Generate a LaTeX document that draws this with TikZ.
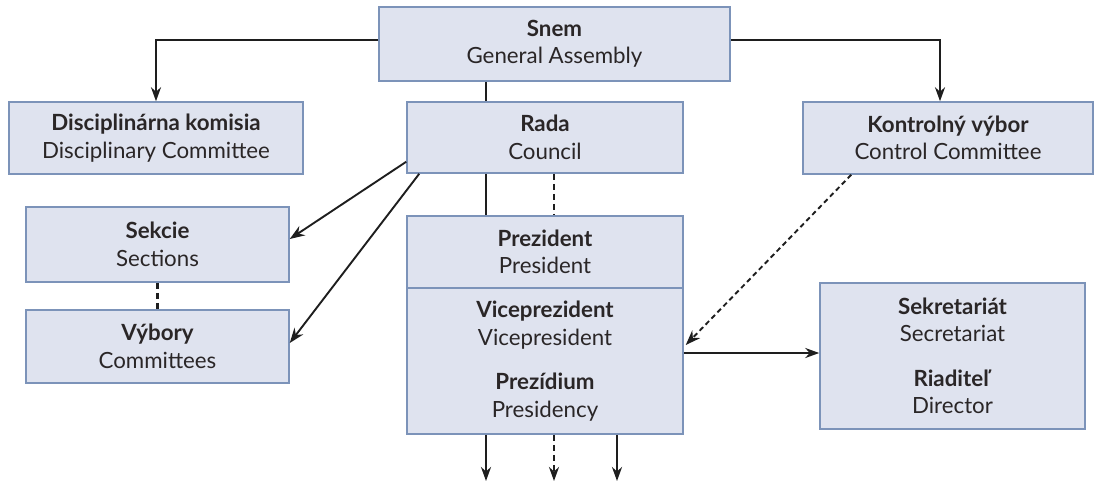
\documentclass[tikz,border=0pt]{standalone}
\usepackage{fontspec}
\setmainfont{Lato}
\usetikzlibrary{arrows.meta}
\definecolor{boxfill}{HTML}{DFE3EF}
\definecolor{boxline}{HTML}{7C93B9}
\definecolor{txtc}{HTML}{2A2627}
\definecolor{lnc}{HTML}{1E1E1E}
\newcommand{\tl}[2]{\textbf{#1}\\#2}
\begin{document}
\begin{tikzpicture}[x=1pt,y=-1pt,
  box/.style={draw=boxline, fill=boxfill, line width=1.5pt, rectangle, inner sep=0pt,
    align=center, text=txtc, font=\fontsize{22.3}{27.5}\selectfont},
  conn/.style={line width=2.8pt, draw=lnc},
  arr/.style={conn, -{Stealth[length=14pt,width=10pt]}},
  thinarr/.style={line width=1.9pt, draw=lnc, -{Stealth[length=15pt,width=11pt]}},
  dsh/.style={dash pattern=on 6pt off 4pt},
  thindsh/.style={dash pattern=on 5pt off 3.5pt}]
\useasboundingbox (0,0) rectangle (1095,491);
\node[box, minimum width=351pt, minimum height=74pt] (snem) at (554.5,44) {\tl{Snem}{General Assembly}};
\node[box, minimum width=294pt, minimum height=72pt] (disc) at (156,138) {\tl{Disciplinárna komisia}{Disciplinary Committee}};
\node[box, minimum width=276pt, minimum height=71pt] (rada) at (545,137.5) {\tl{Rada}{Council}};
\node[box, minimum width=290pt, minimum height=72pt] (kontr) at (948,138) {\tl{Kontrolný výbor}{Control Committee}};
\node[box, minimum width=263pt, minimum height=75pt] (sekcie) at (157.5,244.5) {\tl{Sekcie}{Sections}};
\node[box, minimum width=263pt, minimum height=73pt] (vybory) at (157.5,346.5) {\tl{Výbory}{Committees}};
\node[box, minimum width=276pt, minimum height=72pt] (prez) at (545,252) {\tl{Prezident}{President}};
\node[box, minimum width=276pt, minimum height=146pt] (vice) at (545,361) {\tl{Viceprezident}{Vicepresident}\\[17pt]\tl{Prezídium}{Presidency}};
\node[box, minimum width=265pt, minimum height=146pt] (sekr) at (952.5,356) {\tl{Sekretariát}{Secretariat}\\[17pt]\tl{Riaditeľ}{Director}};
\coordinate (xa) at (486,0);
\coordinate (xb) at (554,0);
\coordinate (xc) at (617,0);
\coordinate (b1) at (486,481);
\coordinate (b2) at (554,481);
\coordinate (b3) at (617,481);
% connectors
\draw[arr] ([yshift=4pt]snem.west) -| (disc.north);
\draw[arr] ([yshift=4pt]snem.east) -| ([xshift=-8pt]kontr.north);
\draw[conn] (snem.south -| xa) -- (rada.north -| xa);
\draw[conn] (rada.south -| xa) -- (prez.north -| xa);
\draw[conn, dsh] (rada.south -| xb) -- (prez.north -| xb);
\draw[thinarr] ([yshift=12pt]rada.south west) -- ([yshift=5.5pt]sekcie.east);
\draw[thinarr] ([xshift=13pt]rada.south west) -- ([yshift=3.5pt]vybory.east);
\draw[conn, dsh] (sekcie.south) -- (vybory.north);
\draw[thinarr, thindsh] ([xshift=49pt]kontr.south west) -- ([xshift=2pt,yshift=16pt]vice.east);
\draw[arr] ([yshift=8pt]vice.east) -- ([yshift=8pt]vice.east -| sekr.west);
\draw[arr] (vice.south -| xa) -- (b1);
\draw[arr, dsh] (vice.south -| xb) -- (b2);
\draw[arr] (vice.south -| xc) -- (b3);
\end{tikzpicture}
\end{document}
